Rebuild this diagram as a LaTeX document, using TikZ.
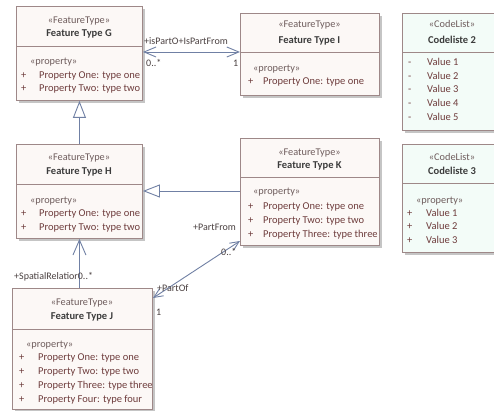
\documentclass[tikz,border=0pt]{standalone}
\usepackage{fontspec}
\setmainfont{Carlito}
\usetikzlibrary{arrows.meta,shadows,calc}
\definecolor{bd}{HTML}{9E8888}
\definecolor{ftfill}{HTML}{FCF8F6}
\definecolor{clfill}{HTML}{F3FCF8}
\definecolor{ln}{HTML}{7080A4}
\definecolor{stc}{HTML}{6E5C5C}
\definecolor{ttc}{HTML}{3C3C3C}
\definecolor{atc}{HTML}{6E3C3C}
\definecolor{lbc}{HTML}{4A4040}
\begin{document}
\begin{tikzpicture}[x=1pt,y=-1pt,
  box/.style={draw=bd, line width=0.9pt, anchor=north west, inner sep=0pt,
    drop shadow={shadow xshift=2.5pt, shadow yshift=-2.5pt, fill=black!45, opacity=0.5}},
  ft/.style={box, fill=ftfill},
  cl/.style={box, fill=clfill},
  divider/.style={draw=bd, line width=0.8pt},
  txt/.style={inner sep=0pt, text height=7.5pt, text depth=2.5pt},
  st/.style={txt, text=stc, font=\fontsize{10.3}{12}\selectfont},
  tt/.style={txt, text=ttc, font=\fontsize{10.5}{12}\selectfont\bfseries},
  attr/.style={txt, text=atc, font=\fontsize{10.5}{12}\selectfont, anchor=west},
  lb/.style={txt, text=lbc, font=\fontsize{10}{12}\selectfont, anchor=west},
  conn/.style={draw=ln, line width=0.9pt},
  gen/.style={conn, -{Triangle[fill=white, length=17pt, width=13pt]}},
]
\clip (0,0) rectangle (494,411);
\fill[white] (0,0) rectangle (494,411);

% ---------- Feature Type G ----------
\node[ft, minimum width=126pt, minimum height=94pt] (G) at (16,6) {};
\draw[divider] (G.west |- 0,46) -- (G.east |- 0,46);
\node[st] (Gs) at (79,21) {«FeatureType»};
\node[tt] (Gt) at (79,34) {Feature Type G};
\node[st, anchor=west] (Gp) at (30,62) {«property»};
\node[attr] (Gm1) at (21,76) {+};
\node[attr] (Ga1) at (39,76) {Property One: type one};
\node[attr] (Gm2) at (21,89) {+};
\node[attr] (Ga2) at (39,89) {Property Two: type two};

% ---------- Feature Type I ----------
\node[ft, minimum width=139pt, minimum height=82pt] (I) at (240,13) {};
\draw[divider] (I.west |- 0,52) -- (I.east |- 0,52);
\node[st] (Is) at (309.5,25) {«FeatureType»};
\node[tt] (It) at (309.5,41) {Feature Type I};
\node[st, anchor=west] (Ip) at (253,69) {«property»};
\node[attr] (Im1) at (248,82) {+};
\node[attr] (Ia1) at (263,82) {Property One: type one};

% ---------- Codeliste 2 ----------
\node[cl, minimum width=100pt, minimum height=117pt] (C2) at (402,13) {};
\draw[divider] (C2.west |- 0,52) -- (C2.east |- 0,52);
\node[st] (C2s) at (452,25) {«CodeList»};
\node[tt] (C2t) at (452,41) {Codeliste 2};
\node[attr] (C2m1) at (408,63) {-};
\node[attr] (C2v1) at (427,63) {Value 1};
\node[attr] (C2m2) at (408,77) {-};
\node[attr] (C2v2) at (427,77) {Value 2};
\node[attr] (C2m3) at (408,90) {-};
\node[attr] (C2v3) at (427,90) {Value 3};
\node[attr] (C2m4) at (408,104) {-};
\node[attr] (C2v4) at (427,104) {Value 4};
\node[attr] (C2m5) at (408,118) {-};
\node[attr] (C2v5) at (427,118) {Value 5};

% ---------- Feature Type H ----------
\node[ft, minimum width=126pt, minimum height=94pt] (H) at (16,144) {};
\draw[divider] (H.west |- 0,184) -- (H.east |- 0,184);
\node[st] (Hs) at (79,158) {«FeatureType»};
\node[tt] (Ht) at (79,172) {Feature Type H};
\node[st, anchor=west] (Hp) at (30,201) {«property»};
\node[attr] (Hm1) at (21,214) {+};
\node[attr] (Ha1) at (39,214) {Property One: type one};
\node[attr] (Hm2) at (21,228) {+};
\node[attr] (Ha2) at (39,228) {Property Two: type two};

% ---------- Feature Type K ----------
\node[ft, minimum width=139pt, minimum height=107pt] (K) at (240,138) {};
\draw[divider] (K.west |- 0,177) -- (K.east |- 0,177);
\node[st] (Ks) at (309.5,153) {«FeatureType»};
\node[tt] (Kt) at (309.5,166) {Feature Type K};
\node[st, anchor=west] (Kp) at (253,192) {«property»};
\node[attr] (Km1) at (248,207) {+};
\node[attr] (Ka1) at (263,207) {Property One: type one};
\node[attr] (Km2) at (248,221) {+};
\node[attr] (Ka2) at (263,221) {Property Two: type two};
\node[attr] (Km3) at (248,235) {+};
\node[attr] (Ka3) at (263,235) {Property Three: type three};

% ---------- Codeliste 3 ----------
\node[cl, minimum width=100pt, minimum height=108pt] (C3) at (402,144) {};
\draw[divider] (C3.west |- 0,183) -- (C3.east |- 0,183);
\node[st] (C3s) at (452,158) {«CodeList»};
\node[tt] (C3t) at (452,172) {Codeliste 3};
\node[st, anchor=west] (C3p) at (416,201) {«property»};
\node[attr] (C3m1) at (407,214) {+};
\node[attr] (C3v1) at (426,214) {Value 1};
\node[attr] (C3m2) at (407,227) {+};
\node[attr] (C3v2) at (426,227) {Value 2};
\node[attr] (C3m3) at (407,241) {+};
\node[attr] (C3v3) at (426,241) {Value 3};

% ---------- Feature Type J ----------
\node[ft, minimum width=140pt, minimum height=121pt] (J) at (12,288) {};
\draw[divider] (J.west |- 0,329) -- (J.east |- 0,329);
\node[st] (Js) at (82,303) {«FeatureType»};
\node[tt] (Jt) at (82,317) {Feature Type J};
\node[st, anchor=west] (Jp) at (26,345) {«property»};
\node[attr] (Jm1) at (19,358) {+};
\node[attr] (Ja1) at (38,358) {Property One: type one};
\node[attr] (Jm2) at (19,372) {+};
\node[attr] (Ja2) at (38,372) {Property Two: type two};
\node[attr] (Jm3) at (19,386) {+};
\node[attr] (Ja3) at (38,386) {Property Three: type three};
\node[attr] (Jm4) at (19,400) {+};
\node[attr] (Ja4) at (38,400) {Property Four: type four};

% ---------- connectors ----------
% G <-> I association
\coordinate (gi1) at (G.east |- 0,52);
\coordinate (gi2) at (I.west |- 0,52);
\draw[conn, {Straight Barb[length=12pt,width=10pt]}-{Straight Barb[length=12pt,width=10pt]}] (gi1) -- (gi2);
\node[lb] (l1) at (144,42) {+isPartO+IsPartFrom};
\node[lb] (l2) at (146,64) {0..*};
\node[lb] (l3) at (233,64) {1};

% H -> G generalization
\draw[gen] (H.north) -- (G.south);

% K -> H generalization
\coordinate (kh1) at (K.west |- 0,191);
\coordinate (kh2) at (H.east |- 0,191);
\draw[gen] (kh1) -- (kh2);

% J -> H association
\coordinate (jh1) at (H.south |- J.north);
\draw[conn, -{Straight Barb[length=15pt,width=13pt]}] (jh1) -- (H.south);
\node[lb] (l4) at (14,277) {+SpatialRelatior0..*};

% J <-> K association
\coordinate (jk1) at (153,298);
\coordinate (jk2) at (240,241);
\draw[conn, {Straight Barb[length=9pt,width=8pt]}-{Straight Barb[length=9pt,width=8pt]}] (jk1) -- (jk2);
\node[lb] (l5) at (193,228) {+PartFrom};
\node[lb] (l6) at (221,253) {0..*};
\node[lb] (l7) at (157,289) {+PartOf};
\node[lb] (l8) at (156,313) {1};
\end{tikzpicture}
\end{document}
